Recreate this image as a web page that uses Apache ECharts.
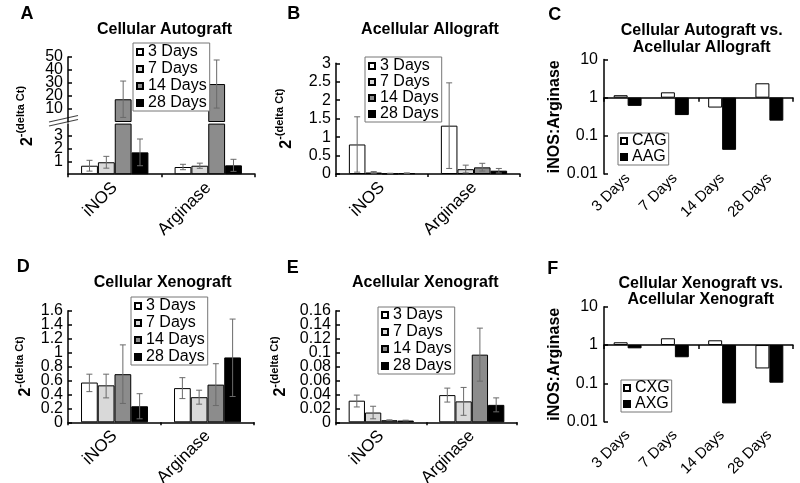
<!DOCTYPE html>
<html>
<head>
<meta charset="utf-8">
<script src="https://cdn.jsdelivr.net/npm/echarts@6.0.0/dist/echarts.min.js"></script>
<style>
html,body{margin:0;padding:0;background:#ffffff;}
#chart{width:800px;height:483px;}
</style>
</head>
<body>
<div id="chart"></div>
<script>
// ---------------- data ----------------
const genes = ['iNOS', 'Arginase'];
const days = ['3 Days', '7 Days', '14 Days', '28 Days'];
const ratioCats = ['3 Days', '7 Days', '14 Days', '28 Days'];

// Panel A - Cellular Autograft (rows = days, cols = genes)
const aMean = [[0.66, 0.56], [0.93, 0.66], [17.5, 29.2], [1.70, 0.69]];
const aLow  = [[0.24, 0.35], [0.47, 0.46], [3.5, 10.7], [0.66, 0.22]];
const aHigh = [[1.08, 0.77], [1.39, 0.86], [31.5, 47.7], [2.74, 1.16]];
const aUpperTicks = [10, 20, 30, 40, 50];
const aLowerTicks = [1, 2, 3];
const aBreak = 5;

// Panel B - Acellular Allograft
const bMean = [[0.80, 1.31], [0.04, 0.13], [0.01, 0.18], [0.02, 0.09]];
const bLow  = [[0.05, 0.15], [0.02, 0.03], [0.005, 0.08], [0.01, 0.03]];
const bHigh = [[1.55, 2.47], [0.065, 0.24], [0.02, 0.29], [0.03, 0.15]];

// Panel C - iNOS:Arginase, Cellular Autograft vs Acellular Allograft
const cCAG = [1.16, 1.38, 0.55, 2.38];
const cAAG = [0.61, 0.35, 0.043, 0.25];

// Panel D - Cellular Xenograft
const dMean = [[0.57, 0.49], [0.53, 0.36], [0.69, 0.54], [0.23, 0.93]];
const dLow  = [[0.44, 0.34], [0.35, 0.26], [0.27, 0.24], [0.05, 0.37]];
const dHigh = [[0.69, 0.64], [0.69, 0.46], [1.11, 0.84], [0.41, 1.48]];
const dTicks = [0, 0.2, 0.4, 0.6, 0.8, 1, 1.2, 1.4, 1.6];

// Panel E - Acellular Xenograft
const eMean = [[0.031, 0.039], [0.014, 0.030], [0.003, 0.097], [0.0025, 0.025]];
const eLow  = [[0.022, 0.029], [0.005, 0.010], [0.0025, 0.059], [0.002, 0.015]];
const eHigh = [[0.039, 0.049], [0.023, 0.050], [0.0035, 0.135], [0.003, 0.035]];
const eTicks = [0, 0.02, 0.04, 0.06, 0.08, 0.1, 0.12, 0.14, 0.16];

// Panel F - iNOS:Arginase, Cellular Xenograft vs Acellular Xenograft
const fCXG = [1.18, 1.50, 1.33, 0.245];
const fAXG = [0.82, 0.48, 0.030, 0.104];

// ---------------- styles / layout ----------------
const FONT = '"Liberation Sans", Arial, sans-serif';
const dayFill = ['#ffffff', '#d9d9d9', '#8c8c8c', '#000000'];
const ERR = '#6a6a6a';
const GAP4 = 0.28;
const GAP2 = 0.41;
const TICK_FS = 16;

const grids = [
  {left: 68,  top: 57,    width: 187, height: 65},     // 0 A upper
  {left: 68,  top: 124.1, width: 187, height: 50.1},   // 1 A lower
  {left: 336, top: 63.3,  width: 184, height: 110.7},  // 2 B
  {left: 604, top: 59.5,  width: 189, height: 114.5},  // 3 C
  {left: 68,  top: 310.7, width: 186, height: 111.6},  // 4 D
  {left: 336, top: 310.7, width: 181, height: 111.6},  // 5 E
  {left: 604, top: 306.7, width: 189, height: 115}     // 6 F
].map(g => Object.assign({outerBoundsMode: 'none', containLabel: false}, g));

const axisLineStyle = {color: '#000', width: 1.5};

function yLabel(extra) {
  return Object.assign({color: '#000', fontFamily: FONT, fontSize: TICK_FS, margin: 5,
                        hideOverlap: false}, extra || {});
}

function yAxisVal(gi, extra) {
  const base = {
    type: 'value', gridIndex: gi, position: 'left',
    axisLine: {show: true, lineStyle: axisLineStyle},
    axisTick: {show: true, inside: true, length: 4, lineStyle: axisLineStyle},
    axisLabel: yLabel(),
    splitLine: {show: false}
  };
  return Object.assign(base, extra || {});
}

// A second, label-only axis carrying every other tick label (keeps dense labels from being culled)
function yLabelAxis(gi, min, max, values, fmt) {
  return {type: 'value', gridIndex: gi, position: 'left', min: min, max: max,
          axisLine: {show: false}, axisTick: {show: false}, splitLine: {show: false},
          axisLabel: yLabel({customValues: values, formatter: fmt})};
}
const evens = arr => arr.filter((v, i) => i % 2 === 0);
const odds = arr => arr.filter((v, i) => i % 2 === 1);

function xLabel(fs, margin) {
  return {color: '#000', fontFamily: FONT, fontSize: fs, rotate: 45, margin: margin, interval: 0, hideOverlap: false};
}

function xAxisCat(gi, data, extra) {
  const base = {
    type: 'category', gridIndex: gi, data: data,
    axisLine: {show: true, onZero: true, lineStyle: axisLineStyle},
    axisTick: {show: true, length: 3, lineStyle: axisLineStyle},
    axisLabel: xLabel(17, 11),
    splitLine: {show: false}
  };
  return Object.assign(base, extra || {});
}

const supName = '{b|2}{s|-(delta Ct)}';
const supRich = {
  b: {fontFamily: FONT, fontSize: 16, fontWeight: 'bold', color: '#000', lineHeight: 20, verticalAlign: 'bottom'},
  s: {fontFamily: FONT, fontSize: 11, fontWeight: 'bold', color: '#000', lineHeight: 11, verticalAlign: 'top'}
};
function supNameOpts(gap) {
  return {name: supName, nameLocation: 'middle', nameRotate: 90, nameGap: gap,
          nameTextStyle: {rich: supRich}};
}
function ratioNameOpts(gap) {
  return {name: 'iNOS:Arginase', nameLocation: 'middle', nameRotate: 90, nameGap: gap,
          nameTextStyle: {fontFamily: FONT, fontSize: 16, fontWeight: 'bold', color: '#000'}};
}

function daySeries(gi, means, keep) {
  return days.map((d, k) => ({
    type: 'bar', name: d, xAxisIndex: gi, yAxisIndex: gi,
    data: genes.map((g, j) => (keep && !keep(means[k][j])) ? '-' : means[k][j]),
    barGap: '0%', barCategoryGap: (GAP4 * 100) + '%',
    itemStyle: {color: dayFill[k], borderColor: '#000', borderWidth: 1},
    emphasis: {disabled: true}, animation: false
  }));
}

function errRender(nBars, gap) {
  return function (params, api) {
    const cat = api.value(0), k = api.value(1);
    const lo = api.coord([cat, api.value(2)]);
    const hi = api.coord([cat, api.value(3)]);
    const band = api.size([1, 0])[0];
    const bw = band * (1 - gap) / nBars;
    const x = lo[0] + (k - (nBars - 1) / 2) * bw;
    const cap = 3;
    const st = {stroke: ERR, lineWidth: 1, fill: null};
    return {type: 'group', children: [
      {type: 'line', shape: {x1: x, y1: lo[1], x2: x, y2: hi[1]}, style: st},
      {type: 'line', shape: {x1: x - cap, y1: hi[1], x2: x + cap, y2: hi[1]}, style: st},
      {type: 'line', shape: {x1: x - cap, y1: lo[1], x2: x + cap, y2: lo[1]}, style: st}
    ]};
  };
}

function errSeries(gi, means, lows, highs, keep) {
  const data = [];
  days.forEach((d, k) => genes.forEach((g, j) => {
    if (!keep || keep(means[k][j])) data.push([j, k, lows[k][j], highs[k][j]]);
  }));
  return {type: 'custom', name: 'err' + gi, xAxisIndex: gi, yAxisIndex: gi, data: data,
          encode: {x: 0, y: [2, 3]}, renderItem: errRender(4, GAP4), z: 5, silent: true, animation: false};
}

function ratioSeries(gi, name, data, fill) {
  return {type: 'bar', name: name, xAxisIndex: gi, yAxisIndex: gi, data: data,
          barGap: '0%', barCategoryGap: (GAP2 * 100) + '%',
          itemStyle: {color: fill, borderColor: '#000', borderWidth: 1},
          emphasis: {disabled: true}, animation: false};
}

function legendAt(left, top, names, lh, gap, pad) {
  return {orient: 'vertical', left: left, top: top, data: names, icon: 'rect',
          itemWidth: 6, itemHeight: 6, itemGap: gap, padding: pad,
          borderColor: '#777', borderWidth: 1, backgroundColor: '#fff', selectedMode: false,
          textStyle: {fontFamily: FONT, fontSize: 16, color: '#000', lineHeight: lh}};
}

function titleAt(text, x, top, size, lh) {
  return {text: text, left: x, top: top, textAlign: 'center', padding: 0,
          textStyle: {fontFamily: FONT, fontSize: size, fontWeight: 'bold', color: '#000', lineHeight: lh}};
}
function letterAt(text, x, top) {
  return {text: text, left: x, top: top, padding: 0,
          textStyle: {fontFamily: FONT, fontSize: 18, fontWeight: 'bold', color: '#000'}};
}

const logAxis = (gi, gap) => Object.assign(yAxisVal(gi, {
  type: 'log', logBase: 10, min: 0.01, max: 10,
  axisLabel: yLabel({margin: 6, formatter: v => String(+(+v).toFixed(2))})
}), ratioNameOpts(gap));

const numFmt = v => String(+(+v).toFixed(4));

const option = {
  animation: false,
  backgroundColor: '#ffffff',
  textStyle: {fontFamily: FONT},
  title: [
    letterAt('A', 20.5, 4.8), letterAt('B', 287.3, 4.8), letterAt('C', 548.3, 6),
    letterAt('D', 16.7, 258.5), letterAt('E', 286.7, 259.3), letterAt('F', 547.3, 260.5),
    titleAt('Cellular Autograft', 164.5, 21.5, 16, 17),
    titleAt('Acellular Allograft', 430, 21.5, 16, 17),
    titleAt('Cellular Autograft vs.\nAcellular Allograft', 701.7, 22.5, 16, 17),
    titleAt('Cellular Xenograft', 162.7, 274, 16, 17),
    titleAt('Acellular Xenograft', 425.3, 274, 16, 17),
    titleAt('Cellular Xenograft vs.\nAcellular Xenograft', 700.8, 276, 16, 16)
  ],
  legend: [
    legendAt(133, 43, days, 15, 1, [1, 3, 0, 3]),
    legendAt(365, 57, days, 15, 0, [1, 3, 0, 3]),
    legendAt(618, 133, ['CAG', 'AAG'], 15, 0, [0, 2, 0, 2]),
    legendAt(131, 297, days, 13, 1, [1, 3, 0, 3]),
    legendAt(378, 307, days, 15, 1, [0, 3, 0, 3]),
    legendAt(621, 380, ['CXG', 'AXG'], 16, 0, [0, 2, 0, 2])
  ],
  grid: grids,
  xAxis: [
    xAxisCat(0, genes, {show: false}),
    xAxisCat(1, genes),
    xAxisCat(2, genes),
    xAxisCat(3, ratioCats, {axisLine: {show: false}, axisTick: {show: false}, axisLabel: xLabel(15, 2)}),
    xAxisCat(4, genes),
    xAxisCat(5, genes),
    xAxisCat(6, ratioCats, {axisLine: {show: false}, axisTick: {show: false}, axisLabel: xLabel(15, 11)}),
    // reference lines at ratio = 1 for C and F
    xAxisCat(3, ratioCats, {position: 'top', offset: -38.17,
      axisLine: {show: true, onZero: false, lineStyle: axisLineStyle},
      axisTick: {show: true, inside: true, length: 4, lineStyle: axisLineStyle},
      axisLabel: {show: false}}),
    xAxisCat(6, ratioCats, {position: 'top', offset: -38.33,
      axisLine: {show: true, onZero: false, lineStyle: axisLineStyle},
      axisTick: {show: true, inside: true, length: 4, lineStyle: axisLineStyle},
      axisLabel: {show: false}})
  ],
  yAxis: [
    // 0 A upper (labels 10,30,50 here; 20,40 on axis 7)
    yAxisVal(0, {min: 0, max: 50, interval: 10,
      axisLabel: yLabel({customValues: evens(aUpperTicks), formatter: numFmt}),
      axisTick: {show: true, inside: true, length: 4, lineStyle: axisLineStyle, customValues: aUpperTicks}}),
    // 1 A lower (labels 1,3 here; 2 on axis 8)
    yAxisVal(1, {min: 0, max: 3.9, interval: 1,
      axisLabel: yLabel({customValues: evens(aLowerTicks), formatter: numFmt}),
      axisTick: {show: true, inside: true, length: 4, lineStyle: axisLineStyle, customValues: aLowerTicks}}),
    yAxisVal(2, Object.assign({min: 0, max: 3, interval: 0.5}, supNameOpts(41.5))),
    logAxis(3, 34),
    // 4 D
    yAxisVal(4, Object.assign({min: 0, max: 1.6, interval: 0.2,
      axisLabel: yLabel({customValues: evens(dTicks), formatter: numFmt}),
      axisTick: {show: true, inside: true, length: 4, lineStyle: axisLineStyle, customValues: dTicks}},
      supNameOpts(34))),
    // 5 E
    yAxisVal(5, Object.assign({min: 0, max: 0.16, interval: 0.02,
      axisLabel: yLabel({customValues: evens(eTicks), formatter: numFmt}),
      axisTick: {show: true, inside: true, length: 4, lineStyle: axisLineStyle, customValues: eTicks}},
      supNameOpts(47))),
    logAxis(6, 35.5),
    // label-only companions
    yLabelAxis(0, 0, 50, odds(aUpperTicks), numFmt),
    yLabelAxis(1, 0, 3.9, odds(aLowerTicks), numFmt),
    yLabelAxis(4, 0, 1.6, odds(dTicks), numFmt),
    yLabelAxis(5, 0, 0.16, odds(eTicks), numFmt)
  ],
  series: [].concat(
    daySeries(0, aMean, v => v > aBreak),
    daySeries(1, aMean),
    [errSeries(0, aMean, aLow, aHigh, v => v > aBreak), errSeries(1, aMean, aLow, aHigh, v => v <= aBreak)],
    daySeries(2, bMean), [errSeries(2, bMean, bLow, bHigh)],
    [ratioSeries(3, 'CAG', cCAG, '#ffffff'), ratioSeries(3, 'AAG', cAAG, '#000000')],
    daySeries(4, dMean), [errSeries(4, dMean, dLow, dHigh)],
    daySeries(5, eMean), [errSeries(5, eMean, eLow, eHigh)],
    [ratioSeries(6, 'CXG', fCXG, '#ffffff'), ratioSeries(6, 'AXG', fAXG, '#000000')]
  ),
  graphic: [
    // y-axis name of panel A (spans the broken axis)
    {type: 'text', x: 35.5, y: 116, rotation: Math.PI / 2, silent: true,
     style: {text: supName, rich: supRich, align: 'center', verticalAlign: 'bottom',
             textAlign: 'center', textVerticalAlign: 'bottom'}},
    // axis break marks for panel A
    {type: 'line', silent: true, shape: {x1: 49, y1: 122, x2: 78, y2: 115.5}, style: {stroke: '#444', lineWidth: 1.2}},
    {type: 'line', silent: true, shape: {x1: 49, y1: 126, x2: 78, y2: 119.5}, style: {stroke: '#444', lineWidth: 1.2}}
  ]
};

const chart = echarts.init(document.getElementById('chart'), null, {renderer: 'canvas'});
chart.setOption(option);
</script>
</body>
</html>
